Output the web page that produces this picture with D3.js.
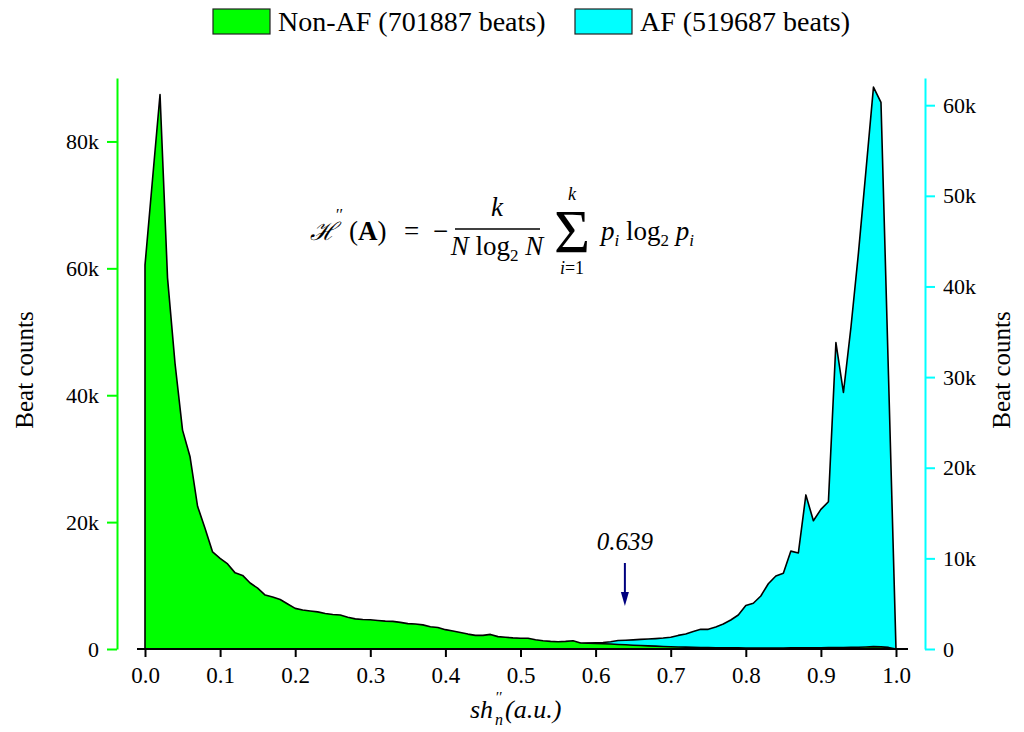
<!DOCTYPE html>
<html>
<head>
<meta charset="utf-8">
<script src="https://cdn.jsdelivr.net/npm/d3@7"></script>
<style>
body { margin: 0; background: #fff; }
svg text { font-family: 'Liberation Serif', 'DejaVu Serif', serif; fill: #000; }
</style>
</head>
<body>
<svg id="chart" width="1024" height="732"></svg>
<script>
// histogram bins, step 0.01 from 0.0 to 1.0
const binStep = 0.01;
const nonAF = [
    60500, 74000, 87400, 58500, 45000, 34500, 30300, 22500, 19000, 15300,
    14300, 13400, 12000, 11600, 10400, 9600, 8500, 8200, 7800, 7100,
    6400, 6150, 6000, 5850, 5600, 5450, 5350, 5000, 4750, 4650,
    4600, 4500, 4400, 4350, 4200, 4000, 3950, 3800, 3500, 3400,
    3050, 2850, 2600, 2350, 2150, 2150, 2300, 1950, 1850, 1750,
    1700, 1700, 1450, 1300, 1200, 1150, 1200, 1300, 950, 900,
    870, 820, 780, 720, 660, 600, 550, 500, 450, 400,
    360, 320, 290, 260, 240, 220, 200, 190, 180, 170,
    160, 160, 150, 150, 160, 160, 170, 180, 200, 190,
    200, 210, 230, 240, 260, 280, 320, 380, 340, 250,
    0
];
const af = [
    40, 55, 70, 80, 85, 100, 110, 115, 130, 140,
    150, 155, 170, 180, 185, 200, 205, 220, 230, 235,
    250, 255, 270, 275, 290, 300, 305, 320, 330, 335,
    350, 355, 370, 380, 385, 400, 410, 415, 430, 440,
    450, 455, 470, 480, 490, 500, 505, 520, 530, 540,
    550, 560, 570, 575, 590, 600, 610, 620, 640, 660,
    690, 720, 800, 940, 970, 1010, 1060, 1100, 1150, 1210,
    1300, 1500, 1650, 1930, 2170, 2170, 2430, 2760, 3200, 3750,
    4800, 5050, 5850, 7200, 8050, 8350, 10800, 10600, 17000, 14150,
    15400, 16250, 33800, 28300, 35500, 43700, 52800, 62000, 60300, 30200,
    0
];
const xTicks = [0, 0.1, 0.2, 0.3, 0.4, 0.5, 0.6, 0.7, 0.8, 0.9, 1.0];
const leftTicks = [0, 20000, 40000, 60000, 80000];
const rightTicks = [0, 10000, 20000, 30000, 40000, 50000, 60000];
const legendLabels = ['Non-AF (701887 beats)', 'AF (519687 beats)'];
const threshold = 0.639;

const green = '#00ff00';
const cyan = '#00ffff';

const svg = d3.select('#chart');

const x = d3.scaleLinear().domain([0, 1]).range([145, 896]);
const yL = d3.scaleLinear().domain([0, 90000]).range([649, 78]);
const yR = d3.scaleLinear().domain([0, 63000]).range([649, 78]);

const kFmt = d => d === 0 ? '0' : `${d / 1000}k`;

// areas: AF behind, Non-AF in front
const areaAF = d3.area()
    .x((d, i) => x(i * binStep))
    .y0(yR(0))
    .y1(d => yR(d));
const areaNon = d3.area()
    .x((d, i) => x(i * binStep))
    .y0(yL(0))
    .y1(d => yL(d));

svg.append('path')
    .attr('d', areaAF(af))
    .attr('fill', cyan)
    .attr('stroke', '#000')
    .attr('stroke-width', 1.6)
    .attr('stroke-linejoin', 'round');

svg.append('path')
    .attr('d', areaNon(nonAF))
    .attr('fill', green)
    .attr('stroke', '#000')
    .attr('stroke-width', 1.6)
    .attr('stroke-linejoin', 'round');

// bottom axis
const minorX = d3.range(0, 51).map(i => i * 0.02);
const gx = svg.append('g').attr('transform', 'translate(0,649)');
gx.call(d3.axisBottom(x).tickValues(minorX).tickSize(5).tickFormat(''));
gx.call(d3.axisBottom(x).tickValues(xTicks).tickSize(8).tickPadding(10)
    .tickFormat(d3.format('.1f')));
gx.selectAll('.domain').remove();
gx.selectAll('line').attr('stroke', '#000').attr('stroke-width', 2);
gx.selectAll('text').attr('font-size', 23).attr('fill', '#000')
    .attr('font-family', "'Liberation Serif', serif");
svg.append('line')
    .attr('x1', 137).attr('x2', 908)
    .attr('y1', 649).attr('y2', 649)
    .attr('stroke', '#000').attr('stroke-width', 2);

// left axis
const minorL = d3.range(0, 23).map(i => i * 4000);
const gl = svg.append('g').attr('transform', 'translate(117,0)');
gl.call(d3.axisLeft(yL).tickValues(minorL).tickSize(6).tickFormat('').tickSizeOuter(0));
gl.call(d3.axisLeft(yL).tickValues(leftTicks).tickSize(10).tickPadding(8)
    .tickFormat(kFmt).tickSizeOuter(0));
gl.selectAll('path, line').attr('stroke', green).attr('stroke-width', 2);
gl.selectAll('text').attr('font-size', 22).attr('fill', '#000')
    .attr('font-family', "'Liberation Serif', serif");

// right axis
const minorR = d3.range(0, 32).map(i => i * 2000);
const gr = svg.append('g').attr('transform', 'translate(925,0)');
gr.call(d3.axisRight(yR).tickValues(minorR).tickSize(6).tickFormat('').tickSizeOuter(0));
gr.call(d3.axisRight(yR).tickValues(rightTicks).tickSize(10).tickPadding(8)
    .tickFormat(kFmt).tickSizeOuter(0));
gr.selectAll('path, line').attr('stroke', cyan).attr('stroke-width', 2);
gr.selectAll('text').attr('font-size', 22).attr('fill', '#000')
    .attr('font-family', "'Liberation Serif', serif");

// axis titles
svg.append('text')
    .attr('transform', 'translate(33,370) rotate(-90)')
    .attr('text-anchor', 'middle')
    .attr('font-size', 25)
    .text('Beat counts');
svg.append('text')
    .attr('transform', 'translate(1010,370) rotate(-90)')
    .attr('text-anchor', 'middle')
    .attr('font-size', 25)
    .text('Beat counts');

const xtitle = svg.append('g').attr('font-size', 26).attr('font-style', 'italic');
xtitle.append('text').attr('x', 470).attr('y', 718).text('sh');
xtitle.append('text').attr('x', 495).attr('y', 702).attr('font-size', 15).text('′′');
xtitle.append('text').attr('x', 495).attr('y', 725).attr('font-size', 16).text('n');
xtitle.append('text').attr('x', 505).attr('y', 718).text('(a.u.)');

// legend
const legend = svg.append('g');
[[213, green], [575, cyan]].forEach(([lx, c], i) => {
    legend.append('rect')
        .attr('x', lx).attr('y', 9)
        .attr('width', 57).attr('height', 25)
        .attr('fill', c)
        .attr('stroke', '#222')
        .attr('stroke-width', 1.2);
    legend.append('text')
        .attr('x', lx + 65).attr('y', 31)
        .attr('font-size', 28)
        .text(legendLabels[i]);
});

// formula
const f = svg.append('g').attr('font-size', 27);
f.append('text').attr('x', 310).attr('y', 240)
    .attr('font-family', "'DejaVu Serif', serif").attr('font-style', 'italic')
    .attr('font-size', 25).text('ℋ');
f.append('text').attr('x', 336).attr('y', 220).attr('font-size', 16).text('′′');
const fa = f.append('text').attr('x', 349).attr('y', 240);
fa.append('tspan').text('(');
fa.append('tspan').attr('font-weight', 'bold').text('A');
fa.append('tspan').text(')');
f.append('text').attr('x', 404).attr('y', 240).text('=');
f.append('text').attr('x', 433).attr('y', 240).text('−');
f.append('text').attr('x', 497).attr('y', 216).attr('text-anchor', 'middle')
    .attr('font-style', 'italic').text('k');
f.append('line').attr('x1', 455).attr('x2', 540).attr('y1', 229).attr('y2', 229)
    .attr('stroke', '#000').attr('stroke-width', 1.3);
const fd = f.append('text').attr('x', 497).attr('y', 255).attr('text-anchor', 'middle');
fd.append('tspan').attr('font-style', 'italic').text('N');
fd.append('tspan').text(' log');
fd.append('tspan').attr('font-size', 17).attr('dy', 6).text('2');
fd.append('tspan').attr('dy', -6).attr('font-style', 'italic').text(' N');
f.append('text').attr('x', 572).attr('y', 252).attr('text-anchor', 'middle')
    .attr('font-size', 62).text('Σ');
f.append('text').attr('x', 572).attr('y', 200).attr('text-anchor', 'middle')
    .attr('font-size', 18).attr('font-style', 'italic').text('k');
const fi = f.append('text').attr('x', 572).attr('y', 274).attr('text-anchor', 'middle')
    .attr('font-size', 18);
fi.append('tspan').attr('font-style', 'italic').text('i');
fi.append('tspan').text('=1');
const fp = f.append('text').attr('x', 601).attr('y', 240);
fp.append('tspan').attr('font-style', 'italic').text('p');
fp.append('tspan').attr('font-size', 17).attr('dy', 6).attr('font-style', 'italic').text('i');
fp.append('tspan').attr('dy', -6).text(' log');
fp.append('tspan').attr('font-size', 17).attr('dy', 6).text('2');
fp.append('tspan').attr('dy', -6).attr('font-style', 'italic').text(' p');
fp.append('tspan').attr('font-size', 17).attr('dy', 6).attr('font-style', 'italic').text('i');

// threshold annotation
const ax = x(threshold);
svg.append('text')
    .attr('x', ax).attr('y', 550)
    .attr('text-anchor', 'middle')
    .attr('font-size', 25)
    .attr('font-style', 'italic')
    .text(threshold.toFixed(3));
svg.append('line')
    .attr('x1', ax).attr('x2', ax)
    .attr('y1', 563).attr('y2', 594)
    .attr('stroke', '#00007f').attr('stroke-width', 2);
svg.append('path')
    .attr('d', `M${ax - 4},592 L${ax + 4},592 L${ax},606 Z`)
    .attr('fill', '#00007f');
</script>
</body>
</html>
